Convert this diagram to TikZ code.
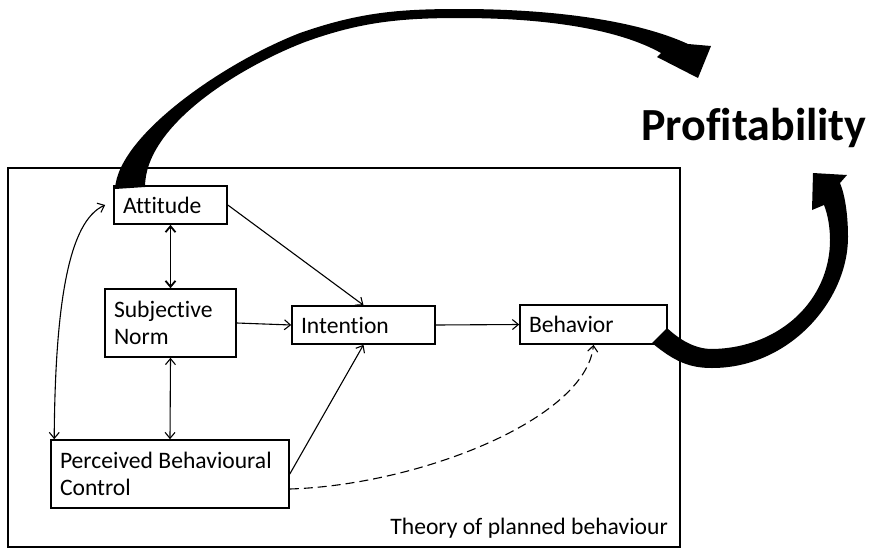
\documentclass[tikz,border=0pt]{standalone}
\usepackage{fontspec}
\setmainfont{Carlito}[Ligatures={NoCommon}]
\usetikzlibrary{arrows.meta,calc}
\begin{document}
\begin{tikzpicture}[x=1pt,y=-1pt,
  box/.style={draw,line width=1.6pt,inner xsep=9pt,inner ysep=0pt,align=flush left,
    font=\fontsize{23.6}{27}\selectfont,anchor=center},
  conn/.style={line width=1.1pt,-{Straight Barb[length=6pt,width=10pt]}},
  biconn/.style={line width=1.1pt,{Straight Barb[length=6pt,width=10pt]}-{Straight Barb[length=6pt,width=10pt]}},
  thickarrow/.style={fill=black,draw=none}]
\useasboundingbox (0,0) rectangle (875,549);
% frame
\node (frame) [draw,line width=1.5pt,minimum width=672pt,minimum height=379pt,inner sep=0pt] at (344,357.5) {};
% boxes
\node (att) [box,text width=95pt,minimum height=38pt] at (170.5,205) {Attitude};
\node (sn)  [box,text width=113pt,minimum height=68pt] at (170.5,323) {Subjective\\Norm};
\node (int) [box,text width=125pt,minimum height=38pt] at (363.5,325) {Intention};
\node (beh) [box,text width=129pt,minimum height=39pt] at (593.5,324.5) {Behavior};
\node (pbc) [box,text width=220pt,minimum height=68pt] at (170,474) {Perceived Behavioural\\Control};
% labels
\node (tpb) [anchor=base east,inner sep=0pt,font=\fontsize{23.6}{27}\selectfont] at (668,534) {Theory of planned behaviour};
\node (prof) [anchor=base west,inner sep=0pt,font=\bfseries\fontsize{46}{50}\selectfont] at (641,140) {Profitability};
% connectors
\draw[biconn,line width=1.8pt] (att.south) -- (sn.north);
\draw[biconn] (sn.south) -- (pbc.north);
\draw[conn] (att.east) -- (int.north);
\draw[conn] (sn.east) -- (int.west);
\draw[conn] (pbc.east) -- (int.south);
\draw[conn] (int.east) -- (beh.west);
\draw[conn,dashed,dash pattern=on 9pt off 5pt] ([yshift=-15pt]pbc.east) .. controls +(128,-4) and +(-8,75) .. (beh.south);
\draw[biconn] ([xshift=4pt]pbc.north west) .. controls +(1,-138) and +(-36,16) .. ([xshift=-8pt]att.west);
% thick curved arrows
\fill[thickarrow] (115,189) .. controls (118,135) and (225,62) .. (300,33)
  .. controls (360,12) and (400,9) .. (460,9)
  .. controls (560,9) and (640,22) .. (688,44)
  -- (711,46) -- (698,78) -- (657,57) -- (661,53)
  .. controls (620,30) and (550,18) .. (460,18)
  .. controls (400,18) and (360,22) .. (305,42)
  .. controls (240,67) and (145,125) .. (145,187) -- cycle;
\fill[thickarrow] (652,343) .. controls (675,362) and (690,368) .. (712,368)
  .. controls (790,368) and (848,300) .. (848,237)
  .. controls (848,215) and (845,195) .. (840,183)
  -- (847,175) -- (813,173) -- (812,210) -- (824,205)
  .. controls (828,215) and (830,228) .. (830,240)
  .. controls (830,300) and (780,348) .. (712,349)
  .. controls (695,349) and (680,340) .. (667,328) -- cycle;
\end{tikzpicture}
\end{document}
